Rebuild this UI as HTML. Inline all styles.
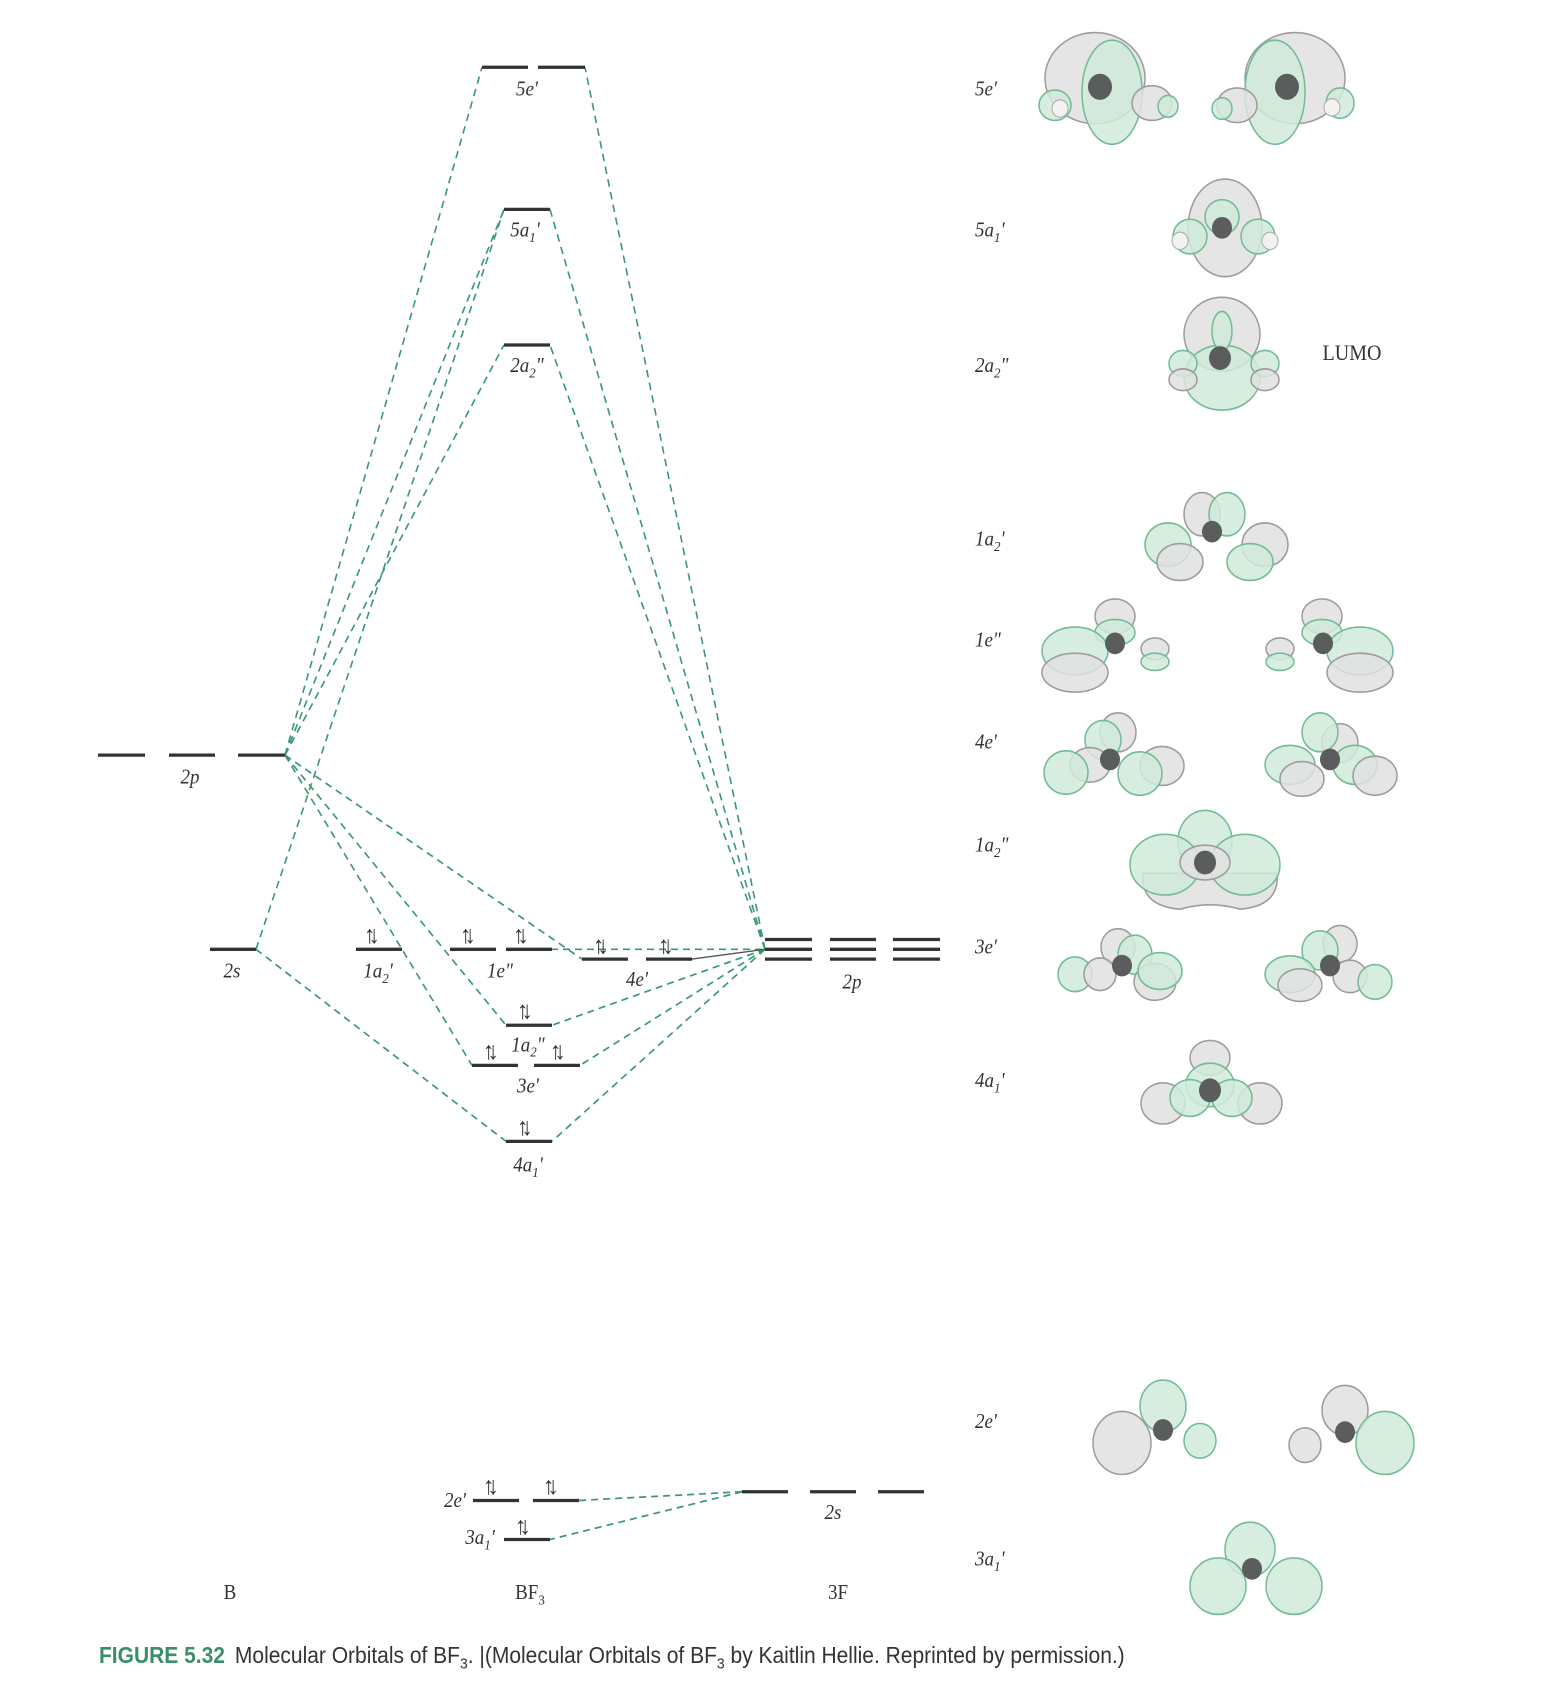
<!DOCTYPE html>
<html><head><meta charset="utf-8"><style>
html,body{margin:0;padding:0;background:#fff}
svg{display:block}
text{font-family:"Liberation Serif",serif;fill:#333}
.l{stroke:#333;stroke-width:3}
.d{stroke:#3a9a6e;stroke-width:1.6;stroke-dasharray:7,5;fill:none}
.G{fill:#e0e0e0;stroke:#9c9c9c;stroke-width:1.5;fill-opacity:.85}
.N{fill:#d0eadb;stroke:#72bb95;stroke-width:1.5;fill-opacity:.85}
.A{fill:#5a5d5b}
.F{fill:#f2f2f2;stroke:#aaa}
.ar{font-family:"DejaVu Sans",sans-serif;font-size:23px;fill:#444;letter-spacing:-7px}
</style></head><body>
<svg width="1562" height="1699" viewBox="0 0 1562 1566" preserveAspectRatio="none" xmlns="http://www.w3.org/2000/svg">
<g class="d">
<line x1="285" y1="696" x2="482" y2="62"/>
<line x1="285" y1="696" x2="504" y2="193"/>
<line x1="285" y1="696" x2="504" y2="318"/>
<line x1="285" y1="696" x2="582" y2="884"/>
<line x1="285" y1="696" x2="506" y2="945"/>
<line x1="285" y1="696" x2="472" y2="982"/>
<line x1="256" y1="875" x2="504" y2="193"/>
<line x1="256" y1="875" x2="506" y2="1052"/>
<line x1="765" y1="875" x2="585" y2="62"/>
<line x1="765" y1="875" x2="550" y2="193"/>
<line x1="765" y1="875" x2="550" y2="318"/>
<line x1="762" y1="875" x2="552" y2="875"/>
<line x1="765" y1="875" x2="552" y2="945"/>
<line x1="765" y1="875" x2="580" y2="982"/>
<line x1="765" y1="875" x2="552" y2="1052"/>
<line x1="742" y1="1375" x2="579" y2="1383"/>
<line x1="742" y1="1375" x2="550" y2="1419"/>
</g>
<line x1="692" y1="884" x2="765" y2="875" stroke="#555" stroke-width="1.3"/>
<g class="l">
<line x1="98" y1="696" x2="145" y2="696"/><line x1="169" y1="696" x2="215" y2="696"/><line x1="238" y1="696" x2="285" y2="696"/>
<line x1="210" y1="875" x2="256" y2="875"/>
<line x1="482" y1="62" x2="528" y2="62"/><line x1="538" y1="62" x2="585" y2="62"/>
<line x1="504" y1="193" x2="550" y2="193"/>
<line x1="504" y1="318" x2="550" y2="318"/>
<line x1="356" y1="875" x2="402" y2="875"/>
<line x1="450" y1="875" x2="496" y2="875"/><line x1="506" y1="875" x2="552" y2="875"/>
<line x1="582" y1="884" x2="628" y2="884"/><line x1="646" y1="884" x2="692" y2="884"/>
<line x1="506" y1="945" x2="552" y2="945"/>
<line x1="472" y1="982" x2="518" y2="982"/><line x1="534" y1="982" x2="580" y2="982"/>
<line x1="506" y1="1052" x2="552" y2="1052"/>
<line x1="473" y1="1383" x2="519" y2="1383"/><line x1="533" y1="1383" x2="579" y2="1383"/>
<line x1="504" y1="1419" x2="550" y2="1419"/>
<line x1="765" y1="866" x2="812" y2="866"/><line x1="765" y1="875" x2="812" y2="875"/><line x1="765" y1="884" x2="812" y2="884"/>
<line x1="830" y1="866" x2="876" y2="866"/><line x1="830" y1="875" x2="876" y2="875"/><line x1="830" y1="884" x2="876" y2="884"/>
<line x1="893" y1="866" x2="940" y2="866"/><line x1="893" y1="875" x2="940" y2="875"/><line x1="893" y1="884" x2="940" y2="884"/>
<line x1="742" y1="1375" x2="788" y2="1375"/><line x1="810" y1="1375" x2="856" y2="1375"/><line x1="878" y1="1375" x2="924" y2="1375"/>
</g>
<g class="ar">
<text x="364" y="869">↑↓</text>
<text x="460" y="869">↑↓</text><text x="513" y="869">↑↓</text>
<text x="593" y="879">↑↓</text><text x="658" y="879">↑↓</text>
<text x="517" y="939">↑↓</text>
<text x="483" y="976">↑↓</text><text x="550" y="976">↑↓</text>
<text x="517" y="1046">↑↓</text>
<text x="483" y="1377">↑↓</text><text x="543" y="1377">↑↓</text>
<text x="515" y="1414">↑↓</text>
</g>
<g font-size="19" text-anchor="middle" font-style="italic">
<text x="190" y="722">2p</text>
<text x="232" y="901">2s</text>
<text x="527" y="88">5e'</text>
<text x="525" y="218">5a<tspan font-size="13" dy="5">1</tspan><tspan dy="-5">'</tspan></text>
<text x="527" y="343">2a<tspan font-size="13" dy="5">2</tspan><tspan dy="-5">"</tspan></text>
<text x="378" y="901">1a<tspan font-size="13" dy="5">2</tspan><tspan dy="-5">'</tspan></text>
<text x="500" y="901">1e"</text>
<text x="637" y="909">4e'</text>
<text x="528" y="969">1a<tspan font-size="13" dy="5">2</tspan><tspan dy="-5">"</tspan></text>
<text x="528" y="1007">3e'</text>
<text x="528" y="1080">4a<tspan font-size="13" dy="5">1</tspan><tspan dy="-5">'</tspan></text>
<text x="455" y="1389">2e'</text>
<text x="480" y="1423">3a<tspan font-size="13" dy="5">1</tspan><tspan dy="-5">'</tspan></text>
<text x="852" y="911">2p</text>
<text x="833" y="1400">2s</text>
</g>
<g font-size="19" text-anchor="middle">
<text x="230" y="1474">B</text>
<text x="530" y="1474">BF<tspan font-size="13" dy="5">3</tspan></text>
<text x="838" y="1474">3F</text>
<text x="1352" y="332" font-size="20">LUMO</text>
</g>
<g font-size="19" font-style="italic">
<text x="975" y="88">5e'</text>
<text x="975" y="218">5a<tspan font-size="13" dy="5">1</tspan><tspan dy="-5">'</tspan></text>
<text x="975" y="343">2a<tspan font-size="13" dy="5">2</tspan><tspan dy="-5">"</tspan></text>
<text x="975" y="503">1a<tspan font-size="13" dy="5">2</tspan><tspan dy="-5">'</tspan></text>
<text x="975" y="596">1e"</text>
<text x="975" y="690">4e'</text>
<text x="975" y="785">1a<tspan font-size="13" dy="5">2</tspan><tspan dy="-5">"</tspan></text>
<text x="975" y="879">3e'</text>
<text x="975" y="1002">4a<tspan font-size="13" dy="5">1</tspan><tspan dy="-5">'</tspan></text>
<text x="975" y="1316">2e'</text>
<text x="975" y="1443">3a<tspan font-size="13" dy="5">1</tspan><tspan dy="-5">'</tspan></text>
</g>
<text x="99" y="1533" font-size="21" style="font-family:'Liberation Sans',sans-serif"><tspan font-weight="bold" style="fill:#3a8f6a">FIGURE 5.32</tspan><tspan dx="10">Molecular Orbitals of BF</tspan><tspan font-size="14" dy="5">3</tspan><tspan dy="-5">. |(Molecular Orbitals of BF</tspan><tspan font-size="14" dy="5">3</tspan><tspan dy="-5"> by Kaitlin Hellie. Reprinted by permission.)</tspan></text>

<g>
<ellipse class="G" cx="1095" cy="72" rx="50" ry="42"/>
<ellipse class="N" cx="1112" cy="85" rx="30" ry="48"/>
<ellipse class="N" cx="1055" cy="97" rx="16" ry="14"/><ellipse class="G" cx="1152" cy="95" rx="20" ry="16"/><ellipse class="N" cx="1168" cy="98" rx="10" ry="10"/>
<circle class="F" cx="1060" cy="100" r="8"/><circle class="A" cx="1100" cy="80" r="12"/>
<ellipse class="G" cx="1295" cy="72" rx="50" ry="42"/>
<ellipse class="N" cx="1275" cy="85" rx="30" ry="48"/>
<ellipse class="G" cx="1237" cy="97" rx="20" ry="16"/><ellipse class="N" cx="1340" cy="95" rx="14" ry="14"/><ellipse class="N" cx="1222" cy="100" rx="10" ry="10"/>
<circle class="F" cx="1332" cy="99" r="8"/><circle class="A" cx="1287" cy="80" r="12"/>
</g>
<g>
<ellipse class="G" cx="1225" cy="210" rx="37" ry="45"/>
<ellipse class="N" cx="1222" cy="200" rx="17" ry="16"/>
<ellipse class="N" cx="1190" cy="218" rx="17" ry="16"/><ellipse class="N" cx="1258" cy="218" rx="17" ry="16"/>
<circle class="F" cx="1180" cy="222" r="8"/><circle class="F" cx="1270" cy="222" r="8"/>
<circle class="A" cx="1222" cy="210" r="10"/>
</g>
<g>
<ellipse class="G" cx="1222" cy="308" rx="38" ry="34"/>
<ellipse class="N" cx="1222" cy="348" rx="38" ry="30"/>
<ellipse class="N" cx="1222" cy="305" rx="10" ry="18"/>
<ellipse class="N" cx="1183" cy="335" rx="14" ry="12"/><ellipse class="N" cx="1265" cy="335" rx="14" ry="12"/>
<ellipse class="G" cx="1183" cy="350" rx="14" ry="10"/><ellipse class="G" cx="1265" cy="350" rx="14" ry="10"/>
<circle class="A" cx="1220" cy="330" r="11"/>
</g>
<g>
<ellipse class="G" cx="1202" cy="474" rx="18" ry="20"/><ellipse class="N" cx="1227" cy="474" rx="18" ry="20"/>
<ellipse class="N" cx="1168" cy="502" rx="23" ry="20"/><ellipse class="G" cx="1180" cy="518" rx="23" ry="17"/>
<ellipse class="G" cx="1265" cy="502" rx="23" ry="20"/><ellipse class="N" cx="1250" cy="518" rx="23" ry="17"/>
<circle class="A" cx="1212" cy="490" r="10"/>
</g>
<g>
<ellipse class="G" cx="1115" cy="568" rx="20" ry="16"/><ellipse class="N" cx="1115" cy="583" rx="20" ry="12"/>
<ellipse class="N" cx="1075" cy="600" rx="33" ry="22"/><ellipse class="G" cx="1075" cy="620" rx="33" ry="18"/>
<ellipse class="G" cx="1155" cy="598" rx="14" ry="10"/><ellipse class="N" cx="1155" cy="610" rx="14" ry="8"/>
<circle class="A" cx="1115" cy="593" r="10"/>
<ellipse class="G" cx="1322" cy="568" rx="20" ry="16"/><ellipse class="N" cx="1322" cy="583" rx="20" ry="12"/>
<ellipse class="N" cx="1360" cy="600" rx="33" ry="22"/><ellipse class="G" cx="1360" cy="620" rx="33" ry="18"/>
<ellipse class="G" cx="1280" cy="598" rx="14" ry="10"/><ellipse class="N" cx="1280" cy="610" rx="14" ry="8"/>
<circle class="A" cx="1323" cy="593" r="10"/>
</g>
<g>
<ellipse class="G" cx="1118" cy="675" rx="18" ry="18"/><ellipse class="N" cx="1103" cy="682" rx="18" ry="18"/>
<ellipse class="G" cx="1090" cy="705" rx="20" ry="16"/><ellipse class="N" cx="1066" cy="712" rx="22" ry="20"/>
<ellipse class="G" cx="1162" cy="706" rx="22" ry="18"/><ellipse class="N" cx="1140" cy="713" rx="22" ry="20"/>
<circle class="A" cx="1110" cy="700" r="10"/>
<ellipse class="G" cx="1340" cy="685" rx="18" ry="18"/><ellipse class="N" cx="1320" cy="675" rx="18" ry="18"/>
<ellipse class="N" cx="1290" cy="705" rx="25" ry="18"/><ellipse class="G" cx="1302" cy="718" rx="22" ry="16"/>
<ellipse class="N" cx="1355" cy="705" rx="22" ry="18"/><ellipse class="G" cx="1375" cy="715" rx="22" ry="18"/>
<circle class="A" cx="1330" cy="700" r="10"/>
</g>
<g>
<path class="G" d="M1143 805 Q1140 835 1180 838 Q1210 830 1240 838 Q1280 835 1277 805 Z"/>
<ellipse class="N" cx="1205" cy="775" rx="27" ry="28"/>
<ellipse class="N" cx="1165" cy="797" rx="35" ry="28"/><ellipse class="N" cx="1245" cy="797" rx="35" ry="28"/>
<ellipse class="G" cx="1205" cy="795" rx="25" ry="16"/>
<circle class="A" cx="1205" cy="795" r="11"/>
</g>
<g>
<ellipse class="G" cx="1118" cy="873" rx="17" ry="17"/><ellipse class="N" cx="1135" cy="880" rx="17" ry="18"/>
<ellipse class="N" cx="1075" cy="898" rx="17" ry="16"/><ellipse class="G" cx="1100" cy="898" rx="16" ry="15"/>
<ellipse class="G" cx="1155" cy="905" rx="21" ry="17"/><ellipse class="N" cx="1160" cy="895" rx="22" ry="17"/>
<circle class="A" cx="1122" cy="890" r="10"/>
<ellipse class="G" cx="1340" cy="870" rx="17" ry="17"/><ellipse class="N" cx="1320" cy="876" rx="18" ry="18"/>
<ellipse class="N" cx="1290" cy="898" rx="25" ry="17"/><ellipse class="G" cx="1300" cy="908" rx="22" ry="15"/>
<ellipse class="G" cx="1350" cy="900" rx="17" ry="15"/><ellipse class="N" cx="1375" cy="905" rx="17" ry="16"/>
<circle class="A" cx="1330" cy="890" r="10"/>
</g>
<g>
<ellipse class="G" cx="1210" cy="975" rx="20" ry="16"/>
<ellipse class="G" cx="1163" cy="1017" rx="22" ry="19"/><ellipse class="G" cx="1260" cy="1017" rx="22" ry="19"/>
<ellipse class="N" cx="1210" cy="1000" rx="24" ry="20"/>
<ellipse class="N" cx="1190" cy="1012" rx="20" ry="17"/><ellipse class="N" cx="1232" cy="1012" rx="20" ry="17"/>
<circle class="A" cx="1210" cy="1005" r="11"/>
</g>
<g>
<ellipse class="N" cx="1163" cy="1296" rx="23" ry="24"/>
<ellipse class="G" cx="1122" cy="1330" rx="29" ry="29"/>
<ellipse class="N" cx="1200" cy="1328" rx="16" ry="16"/>
<circle class="A" cx="1163" cy="1318" r="10"/>
<ellipse class="G" cx="1345" cy="1300" rx="23" ry="23"/>
<ellipse class="N" cx="1385" cy="1330" rx="29" ry="29"/>
<ellipse class="G" cx="1305" cy="1332" rx="16" ry="16"/>
<circle class="A" cx="1345" cy="1320" r="10"/>
</g>
<g>
<ellipse class="N" cx="1250" cy="1428" rx="25" ry="25"/>
<ellipse class="N" cx="1218" cy="1462" rx="28" ry="26"/><ellipse class="N" cx="1294" cy="1462" rx="28" ry="26"/>
<circle class="A" cx="1252" cy="1446" r="10"/>
</g>
</svg>
</body></html>
